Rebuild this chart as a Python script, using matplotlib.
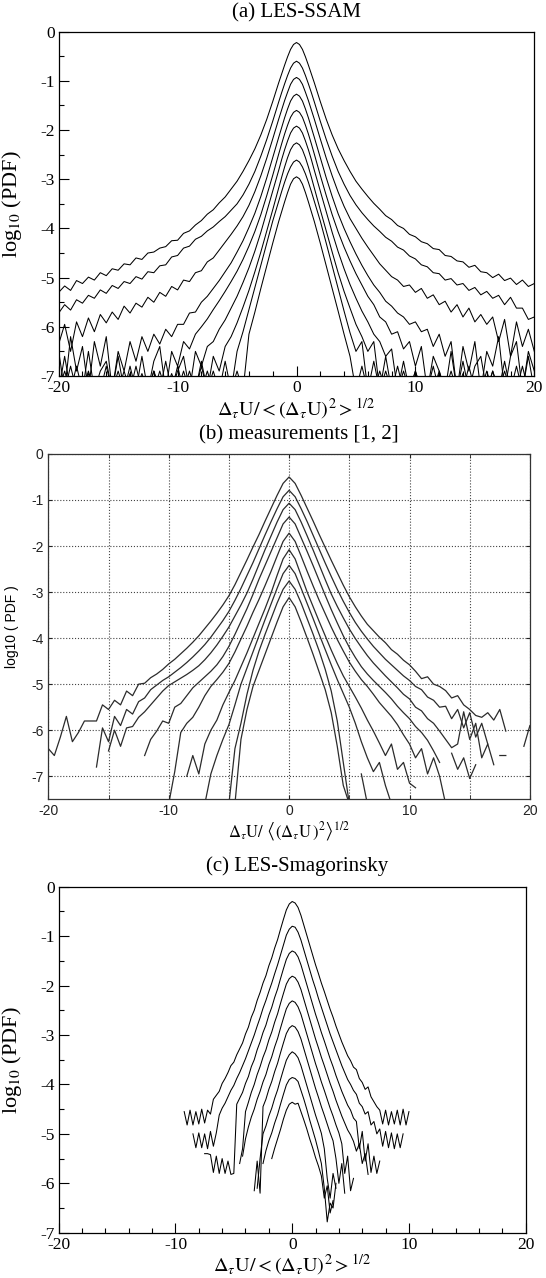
import numpy as np
import matplotlib.pyplot as plt
from matplotlib.ticker import MultipleLocator

plt.rcParams['font.family'] = 'Liberation Serif'
plt.rcParams['mathtext.fontset'] = 'stix'
plt.rcParams['axes.unicode_minus'] = False

nan = np.nan
F = -7.3   # below the axis floor (curve leaves the frame)

# ---------------- (a) LES-SSAM ----------------
# sample positions: -20..-2 step .5, -1.5..1.5 step .25, 2..20 step .5
xa = np.r_[np.arange(-20, -1.99, 0.5), np.arange(-1.5, 1.51, 0.25), np.arange(2, 20.01, 0.5)]

a1 = [-5.30,-5.17,-5.26,-5.06,-5.12,-4.99,-5.05,-4.90,-4.96,-4.82,-4.85,-4.72,-4.74,-4.60,-4.63,-4.50,-4.48,-4.40,-4.37,-4.25,-4.24,-4.10,-4.05,-3.93,-3.84,-3.71,-3.62,-3.48,-3.36,-3.20,-3.04,-2.84,-2.62,-2.38,-2.10,-1.78,-1.42,
      -1.04,-0.86,-0.68,-0.51,-0.36,-0.26,-0.22,-0.26,-0.36,-0.51,-0.68,-0.86,-1.04,
      -1.42,-1.78,-2.10,-2.38,-2.62,-2.84,-3.04,-3.20,-3.35,-3.49,-3.61,-3.74,-3.82,-3.94,-4.00,-4.12,-4.17,-4.27,-4.31,-4.41,-4.43,-4.55,-4.57,-4.66,-4.68,-4.79,-4.75,-4.88,-4.90,-5.00,-4.93,-5.06,-5.01,-5.14,-5.05,-5.18,-5.12]
a2 = [-5.72,-5.55,-5.66,-5.45,-5.52,-5.36,-5.42,-5.25,-5.32,-5.16,-5.22,-5.08,-5.12,-4.98,-5.03,-4.88,-4.90,-4.76,-4.74,-4.58,-4.55,-4.40,-4.36,-4.22,-4.16,-4.05,-3.97,-3.86,-3.76,-3.63,-3.50,-3.32,-3.10,-2.84,-2.53,-2.19,-1.82,
      -1.43,-1.24,-1.06,-0.89,-0.74,-0.64,-0.60,-0.64,-0.74,-0.89,-1.06,-1.24,-1.43,
      -1.82,-2.19,-2.53,-2.84,-3.10,-3.33,-3.52,-3.68,-3.82,-3.95,-4.06,-4.18,-4.26,-4.38,-4.44,-4.56,-4.62,-4.74,-4.78,-4.90,-4.92,-5.05,-5.02,-5.15,-5.12,-5.26,-5.20,-5.35,-5.28,-5.42,-5.36,-5.55,-5.40,-5.62,-5.62,-5.85,-5.80]
a3 = [-6.35,-5.95,-6.50,-5.90,-6.20,-5.82,-6.10,-5.75,-5.92,-5.70,-5.85,-5.58,-5.72,-5.52,-5.60,-5.40,-5.50,-5.30,-5.38,-5.18,-5.25,-5.05,-5.08,-4.90,-4.86,-4.68,-4.60,-4.44,-4.28,-4.12,-3.95,-3.76,-3.53,-3.25,-2.93,-2.57,-2.18,
      -1.78,-1.59,-1.40,-1.23,-1.07,-0.97,-0.93,-0.97,-1.07,-1.23,-1.40,-1.59,-1.78,
      -2.18,-2.57,-2.93,-3.26,-3.55,-3.80,-4.00,-4.20,-4.38,-4.55,-4.72,-4.85,-4.98,-5.05,-5.18,-5.15,-5.30,-5.22,-5.42,-5.35,-5.55,-5.48,-5.70,-5.55,-5.80,-5.62,-5.90,-5.75,-5.95,-5.80,-6.30,-5.85,-6.60,-5.90,-6.40,-6.05,-6.50]
a4 = [-6.5,F,-6.2,-6.9,-6.4,F,-6.3,-6.8,-6.2,F,-6.5,-6.9,-6.3,-6.7,-6.2,-6.5,-6.15,-6.35,-6.05,-6.2,-5.95,-5.95,-5.72,-5.70,-5.50,-5.38,-5.22,-5.06,-4.88,-4.70,-4.48,-4.25,-3.98,-3.69,-3.35,-2.97,-2.56,
      -2.15,-1.95,-1.75,-1.57,-1.41,-1.31,-1.27,-1.31,-1.41,-1.57,-1.75,-1.95,-2.15,
      -2.56,-2.97,-3.35,-3.70,-4.00,-4.27,-4.52,-4.75,-4.96,-5.15,-5.30,-5.48,-5.58,-5.72,-5.80,-5.95,-5.90,-6.10,-6.05,-6.40,-6.15,-6.60,-6.30,F,-6.4,-6.9,-6.3,F,-6.5,-6.8,-6.2,F,-6.6,-6.3,F,-6.5,-6.9]
a5 = [F,-6.6,F,-6.8,F,-6.5,F,-6.9,-6.7,F,-6.6,F,-6.8,F,-6.6,F,-6.7,-6.4,F,-6.5,-6.8,-6.3,-6.45,-6.15,-6.00,-5.84,-5.65,-5.47,-5.28,-5.08,-4.87,-4.63,-4.36,-4.06,-3.72,-3.33,-2.92,
      -2.49,-2.28,-2.08,-1.90,-1.74,-1.64,-1.60,-1.64,-1.74,-1.90,-2.08,-2.28,-2.49,
      -2.92,-3.33,-3.72,-4.07,-4.38,-4.66,-4.92,-5.15,-5.38,-5.55,-5.80,-5.90,-6.15,-6.10,-6.45,-6.30,-6.8,-6.4,F,-6.6,-6.9,F,-6.5,F,-6.7,F,-6.8,-6.6,F,-6.9,F,-6.7,F,-6.8,F,-6.6,F]
a6 = [F,F,-6.8,F,F,-6.9,F,F,-6.8,F,F,-6.9,F,-6.8,F,F,-6.9,F,-6.7,F,-6.9,-6.6,F,-6.5,-6.8,-6.4,-6.3,-6.05,-5.86,-5.62,-5.38,-5.10,-4.80,-4.46,-4.08,-3.66,-3.24,
      -2.82,-2.60,-2.40,-2.22,-2.06,-1.96,-1.92,-1.96,-2.06,-2.22,-2.40,-2.60,-2.82,
      -3.24,-3.66,-4.08,-4.47,-4.82,-5.14,-5.42,-5.68,-5.90,-6.15,-6.30,-6.6,-6.45,F,-6.7,F,-6.9,F,F,-6.8,F,F,-6.9,F,F,-6.8,F,F,-6.9,F,F,-6.9,F,F,-6.8,F,F]
a7 = ([F,-6.9,F,F,F,-6.95,F,F,F,F,-6.9,F,F,F,-6.95,F,F,-6.9,F,F,-6.8,F,-6.9,F,-6.7,F,-6.6,-6.9,-6.4,-6.2,-5.92,-5.60,-5.26,-4.88,-4.48,-4.05,-3.62]
      + [-3.18,-2.96,-2.75,-2.56,-2.40,-2.30,-2.26,-2.30,-2.40,-2.56,-2.75,-2.96,-3.18]
      + [-3.62,-4.05,-4.48,-4.90,-5.28,-5.62,-5.95,-6.2,-6.5,-6.3,F,-6.6,F,-6.8,F,F,-6.9,F,F,F,-6.9,F,F,F,-6.95,F,F,F,F,-6.9]
      + [F] * 7)
a8 = ([F] * 12 + [-6.95] + [F] * 3 + [-6.9] + [F] * 4
      + [-6.9,F,F,-6.8,F,-6.9,F,-6.7,F,-6.5,-6.1,-5.65,-5.2,-4.75,-4.30,-3.85]
      + [-3.45,-3.25,-3.06,-2.89,-2.75,-2.65,-2.61,-2.65,-2.75,-2.89,-3.06,-3.25,-3.45]
      + [-3.85,-4.30,-4.76,-5.22,-5.68,-6.12,-6.5,-6.3,F,-6.7,F,-6.9,F,F,-6.9]
      + [F] * 5 + [-6.95] + [F] * 16)
a9 = ([F] * 19 + [-6.95] + [F] * 5 + [-6.9] + [F] * 4
      + [-6.9,F,-6.15,-5.70,-5.22,-4.76,-4.30]
      + [-3.86,-3.66,-3.46,-3.27,-3.10,-2.99,-2.95,-2.99,-3.10,-3.27,-3.46,-3.66,-3.86]
      + [-4.30,-4.76,-5.22,-5.68,-6.15,-6.6,F,-6.8,F,F,-6.9]
      + [F] * 26)
curves_a = [a1, a2, a3, a4, a5, a6, a7, a8, a9]

# ---------------- (b) measurements ----------------
xb = np.arange(-20, 20.01, 0.5)

b1 = [-6.40,-6.55,-6.15,-5.70,-6.25,-6.05,-5.80,-5.80,-5.80,-5.45,-5.55,-5.35,-5.45,-5.15,-5.25,-5.00,-4.98,-4.86,-4.78,-4.68,-4.56,-4.46,-4.34,-4.22,-4.09,-3.95,-3.79,-3.63,-3.46,-3.28,-3.08,-2.84,-2.57,-2.30,-2.02,-1.75,-1.46,-1.18,-0.90,-0.64,-0.50,
      -0.64,-0.90,-1.18,-1.46,-1.75,-2.03,-2.31,-2.58,-2.85,-3.10,-3.32,-3.52,-3.70,-3.84,-3.98,-4.10,-4.25,-4.35,-4.48,-4.58,-4.72,-4.88,-4.84,-5.00,-5.05,-5.14,-5.30,-5.25,-5.45,-5.55,-5.68,-5.72,-5.62,-5.78,-5.55,-6.02,nan,nan,-6.35,-5.90]
b2 = ([nan] * 8
      + [-6.80,-5.95,-6.25,-5.70,-5.90,-5.55,-5.65,-5.38,-5.30,-5.12,-5.02,-4.92,-4.84,-4.74,-4.64,-4.53,-4.41,-4.28,-4.14,-3.98,-3.80,-3.62,-3.42,-3.18,-2.92,-2.64,-2.36,-2.06,-1.76,-1.47,-1.19,-0.93,-0.79]
      + [-0.93,-1.19,-1.47,-1.77,-2.07,-2.37,-2.66,-2.94,-3.20,-3.44,-3.66,-3.85,-4.02,-4.18,-4.32,-4.46,-4.58,-4.70,-4.82,-4.92,-5.05,-5.12,-5.28,-5.35,-5.50,-5.48,-5.75,-5.55,-5.95,-5.62,-6.15,-5.85,-6.30]
      + [nan,-6.55,-6.55] + [nan] * 4)
b3 = ([nan] * 10
      + [-6.45,-6.00,-6.35,-5.95,-5.92,-5.72,-5.60,-5.45,-5.30,-5.15,-5.03,-4.95,-4.87,-4.79,-4.70,-4.60,-4.47,-4.32,-4.15,-3.96,-3.76,-3.52,-3.28,-3.02,-2.72,-2.40,-2.08,-1.78,-1.48,-1.21,-1.07]
      + [-1.21,-1.48,-1.78,-2.09,-2.41,-2.73,-3.04,-3.31,-3.56,-3.80,-4.01,-4.20,-4.38,-4.54,-4.68,-4.82,-4.95,-5.08,-5.22,-5.32,-5.50,-5.58,-5.75,-5.85,-6.02,-6.20,-6.38,-6.30,-5.60,-6.20,-5.85,-6.60,-6.30,-6.75]
      + [nan] * 6)
b4 = ([nan] * 16
      + [-6.55,-6.20,-6.02,-5.80,-5.85,-5.50,-5.42,-5.25,-5.08,-4.96,-4.84,-4.72,-4.58,-4.40,-4.18,-3.92,-3.64,-3.36,-3.05,-2.72,-2.42,-2.12,-1.82,-1.52,-1.37]
      + [-1.52,-1.82,-2.12,-2.43,-2.75,-3.07,-3.38,-3.67,-3.95,-4.20,-4.42,-4.62,-4.78,-4.92,-5.05,-5.18,-5.32,-5.48,-5.62,-5.75,-5.92,-6.05,-6.22,-6.45,-6.70]
      + [nan,-6.50,-6.85,-6.60,-7.05,-6.75] + [nan] * 9)
b5 = ([nan] * 20
      + [-7.6,-6.90,-6.05,-5.85,-5.72,-5.50,-5.25,-5.05,-4.90,-4.74,-4.55,-4.30,-4.02,-3.74,-3.44,-3.16,-2.86,-2.55,-2.22,-1.90,-1.72]
      + [-1.90,-2.22,-2.55,-2.87,-3.18,-3.47,-3.76,-4.03,-4.28,-4.52,-4.72,-4.90,-5.05,-5.22,-5.40,-5.55,-5.70,-5.88,-6.10,-6.30,-6.60,-6.40,-6.95,-6.60,-7.00,-7.6]
      + [nan] * 14)
b6 = ([nan] * 23
      + [-7.00,-6.55,-6.95,-6.30,-6.00,-5.78,-5.45,-5.18,-4.92,-4.62,-4.32,-4.00,-3.68,-3.36,-3.02,-2.64,-2.28,-2.08]
      + [-2.28,-2.64,-3.00,-3.32,-3.64,-3.95,-4.26,-4.55,-4.82,-5.05,-5.28,-5.52,-5.78,-6.02,-6.28,-6.55,-6.30,-6.85,-6.70,-7.15,-7.25]
      + [nan] * 19)
b7 = ([nan] * 26
      + [-7.6,-6.95,-6.55,-6.20,-5.88,-5.45,-5.00,-4.65,-4.30,-3.95,-3.60,-3.26,-2.92,-2.60,-2.42]
      + [-2.60,-2.92,-3.25,-3.58,-3.92,-4.25,-4.58,-4.90,-5.20,-5.50,-5.85,-6.25,-6.60,-6.90,-6.70,-7.20,-7.6]
      + [nan] * 23)
b8 = ([nan] * 30
      + [-7.6,-6.40,-5.85,-5.22,-4.70,-4.28,-3.92,-3.58,-3.24,-2.94,-2.76]
      + [-2.94,-3.24,-3.58,-3.92,-4.28,-4.68,-5.15,-5.80,-6.70,-7.6,nan,-6.95,-7.6]
      + [nan] * 27)
b9 = ([nan] * 31
      + [-7.6,-6.20,-5.55,-5.05,-4.70,-4.35,-4.00,-3.65,-3.32,-3.12]
      + [-3.32,-3.65,-4.00,-4.36,-4.74,-5.12,-5.62,-6.35,-7.20,-7.6]
      + [nan] * 30)
curves_b = [b1, b2, b3, b4, b5, b6, b7, b8, b9]

# ---------------- (c) LES-Smagorinsky ----------------
xc = np.arange(-9.5, 10.51, 0.25)

c1 = ([nan]
      + [-4.55,-4.82,-4.52,-4.82,-4.55,-4.80,-4.50,-4.78,-4.52,-4.60,-4.30,-4.22,-4.14,-3.98,-3.88,-3.76,-3.62,-3.55,-3.40,-3.28,-3.16,-2.98,-2.84,-2.64,-2.50,-2.30,-2.14,-1.95,-1.80,-1.60,-1.44,-1.24,-1.07,-0.86,-0.66,-0.47,-0.35]
      + [-0.30]
      + [-0.33,-0.42,-0.58,-0.78,-0.98,-1.18,-1.38,-1.58,-1.76,-1.95,-2.12,-2.30,-2.48,-2.64,-2.82,-2.98,-3.14,-3.28,-3.42,-3.52,-3.65,-3.70,-3.88,-3.96,-4.10,-4.05,-4.25,-4.35,-4.45,-4.52,-4.80,-4.52,-4.82,-4.55,-4.80,-4.52,-4.82,-4.50,-4.82,-4.55]
      + [nan] * 2)
c2 = ([nan] * 4
      + [-5.00,-5.28,-4.98,-5.28,-5.00,-5.30,-4.95,-5.25,-4.98,-4.62,-4.48,-4.38,-4.25,-4.12,-4.02,-3.88,-3.76,-3.62,-3.48,-3.32,-3.16,-3.00,-2.82,-2.65,-2.46,-2.30,-2.12,-1.95,-1.76,-1.58,-1.38,-1.18,-0.98,-0.86]
      + [-0.80]
      + [-0.82,-0.92,-1.08,-1.28,-1.48,-1.68,-1.88,-2.06,-2.26,-2.44,-2.62,-2.80,-2.98,-3.14,-3.30,-3.46,-3.62,-3.76,-3.90,-4.00,-4.12,-4.20,-4.38,-4.45,-4.60,-4.55,-4.82,-4.75,-5.00,-4.90,-5.25,-4.95,-5.28,-4.98,-5.30,-5.00,-5.28,-5.00]
      + [nan] * 4)
c3 = ([nan] * 8
      + [-5.40,-5.40,-5.42,-5.78,-5.45,-5.80,-5.50,-5.80,-5.55,-5.82,-5.80,-4.40,-4.28,-4.16,-3.98,-3.84,-3.64,-3.50,-3.30,-3.14,-2.95,-2.80,-2.60,-2.44,-2.24,-2.07,-1.86,-1.66,-1.47,-1.35]
      + [-1.30]
      + [-1.33,-1.42,-1.58,-1.78,-1.98,-2.18,-2.38,-2.58,-2.76,-2.95,-3.12,-3.30,-3.48,-3.64,-3.82,-3.98,-4.14,-4.28,-4.42,-4.52,-4.68,-4.75,-5.30,-4.95,-5.55,-5.20,-5.78,-5.45,-5.80,-5.55]
      + [nan] * 12)
c4 = ([nan] * 20
      + [-5.60,-5.30,-4.55,-4.36,-4.16,-4.00,-3.80,-3.64,-3.45,-3.30,-3.10,-2.94,-2.74,-2.57,-2.36,-2.16,-1.97,-1.86]
      + [-1.81]
      + [-1.84,-1.93,-2.08,-2.28,-2.48,-2.68,-2.88,-3.08,-3.26,-3.45,-3.62,-3.80,-3.98,-4.14,-4.32,-4.48,-4.64,-4.78,-4.92,-5.02,-5.15,-5.35,-5.20,-5.60,-5.40,-5.82]
      + [nan] * 16)
c5 = ([nan] * 21
      + [-5.45,-5.10,-4.86,-4.66,-4.50,-4.30,-4.14,-3.95,-3.80,-3.60,-3.44,-3.24,-3.07,-2.86,-2.66,-2.47,-2.36]
      + [-2.31]
      + [-2.34,-2.43,-2.58,-2.78,-2.98,-3.18,-3.38,-3.58,-3.76,-3.95,-4.12,-4.30,-4.48,-4.64,-4.82,-4.98,-5.20,-5.80,-5.45,-6.15,-5.90]
      + [nan] * 21)
c6 = ([nan] * 25
      + [-6.15,-5.55,-6.20,-4.45,-4.30,-4.10,-3.94,-3.74,-3.57,-3.36,-3.16,-2.97,-2.86]
      + [-2.81]
      + [-2.84,-2.93,-3.08,-3.28,-3.48,-3.68,-3.88,-4.08,-4.26,-4.45,-4.62,-4.80,-4.98,-5.14,-5.50,-6.00,-5.60,-6.20]
      + [nan] * 24)
c7 = ([nan] * 26
      + [-6.10,-5.50,-5.00,-4.84,-4.64,-4.48,-4.28,-4.11,-3.90,-3.70,-3.51,-3.40]
      + [-3.34]
      + [-3.38,-3.46,-3.62,-3.82,-4.02,-4.22,-4.42,-4.62,-4.80,-4.99,-5.30,-5.90,-6.30,-5.80,-6.10]
      + [nan] * 27)
c8 = ([nan] * 28
      + [-5.60,-5.34,-5.14,-4.98,-4.78,-4.61,-4.40,-4.20,-4.01,-3.90]
      + [-3.86]
      + [-3.88,-3.94,-4.12,-4.30,-4.50,-4.72,-4.92,-5.12,-5.35,-5.60,-6.10,-6.78,-6.40,-6.50,-6.00]
      + [nan] * 27)
c9 = ([nan] * 31
      + [-5.50,-5.29,-5.10,-4.91,-4.70,-4.52,-4.40]
      + [-4.36]
      + [-4.40,-4.38,-4.55,-4.72,-4.90,-5.10,-5.28,-5.48,-5.65,-5.85,-6.30,-6.05,-6.60,-6.35]
      + [nan] * 28)
curves_c = [c1, c2, c3, c4, c5, c6, c7, c8, c9]

for tag, xs, group in (('a', xa, curves_a), ('b', xb, curves_b), ('c', xc, curves_c)):
    for k, y in enumerate(group):
        assert len(y) == len(xs), f'{tag}{k + 1}: {len(y)} vs {len(xs)}'

xlab_les = r'$\Delta_{\tau}\mathrm{U}/{<}(\Delta_{\tau}\mathrm{U})^{2}{>}^{1/2}$'
xlab_exp = r'$\Delta_{\tau}\mathrm{U}/\ \left\langle(\Delta_{\tau}\mathrm{U}\,)^{2}\right\rangle^{1/2}$'

fig = plt.figure(figsize=(5.46, 12.78), dpi=100)
axA = fig.add_axes([0.1075, 0.7058, 0.8711, 0.2694])
axB = fig.add_axes([0.0885, 0.3746, 0.8820, 0.2702])
axC = fig.add_axes([0.1075, 0.0354, 0.8553, 0.2708])


def les_style(ax):
    ax.set_xlim(-20, 20)
    ax.set_ylim(-7, 0)
    ax.xaxis.set_major_locator(MultipleLocator(10))
    ax.xaxis.set_minor_locator(MultipleLocator(2))
    ax.yaxis.set_major_locator(MultipleLocator(1))
    ax.yaxis.set_minor_locator(MultipleLocator(0.5))
    ax.tick_params(which='both', direction='in', top=False, right=False, labelsize=12.5, pad=3)
    ax.tick_params(which='major', length=7, width=0.8)
    ax.tick_params(which='minor', length=3.5, width=0.8)
    for s in ax.spines.values():
        s.set_linewidth(0.9)
    ax.set_ylabel(r'log$_{10}$ (PDF)', fontsize=16)
    ax.yaxis.set_label_coords(-0.072, 0.5)
    ax.set_xlabel(xlab_les, fontsize=14.5)
    ax.xaxis.label.set_va('center')


for y in curves_a:
    axA.plot(xa, y, color='black', lw=0.75)
les_style(axA)
axA.xaxis.set_label_coords(0.5, -0.094)

for y in curves_c:
    axC.plot(xc, y, color='black', lw=0.75)
les_style(axC)
axC.yaxis.set_label_coords(-0.074, 0.5)
axC.xaxis.set_label_coords(0.5, -0.092)

# measurement panel, MATLAB look
for y in curves_b:
    axB.plot(xb, y, color='#2b2b2b', lw=0.9)
axB.set_xlim(-20, 20)
axB.set_ylim(-7.5, 0)
axB.xaxis.set_major_locator(MultipleLocator(10))
axB.xaxis.set_minor_locator(MultipleLocator(5))
axB.yaxis.set_major_locator(MultipleLocator(1))
axB.grid(which='both', linestyle=':', color='#444444', linewidth=0.8)
axB.tick_params(which='both', direction='in', top=True, right=True, length=3,
                labelsize=10, labelfontfamily='Liberation Sans', colors='#222222')
for s in axB.spines.values():
    s.set_linewidth(0.9)
    s.set_color('#333333')
axB.set_ylabel('log10 ( PDF )', fontsize=10, family='Liberation Sans')
axB.yaxis.set_label_coords(-0.061, 0.5)
axB.set_xlabel(xlab_exp, fontsize=12)
axB.xaxis.label.set_va('center')
axB.xaxis.set_label_coords(0.5, -0.094)

fig.text(0.543, 0.990, '(a) LES-SSAM', ha='center', va='center', fontsize=15)
fig.text(0.547, 0.6596, '(b) measurements [1, 2]', ha='center', va='center', fontsize=15)
fig.text(0.544, 0.3224, '(c) LES-Smagorinsky', ha='center', va='center', fontsize=15)

fig.savefig('out.png', dpi=100)
